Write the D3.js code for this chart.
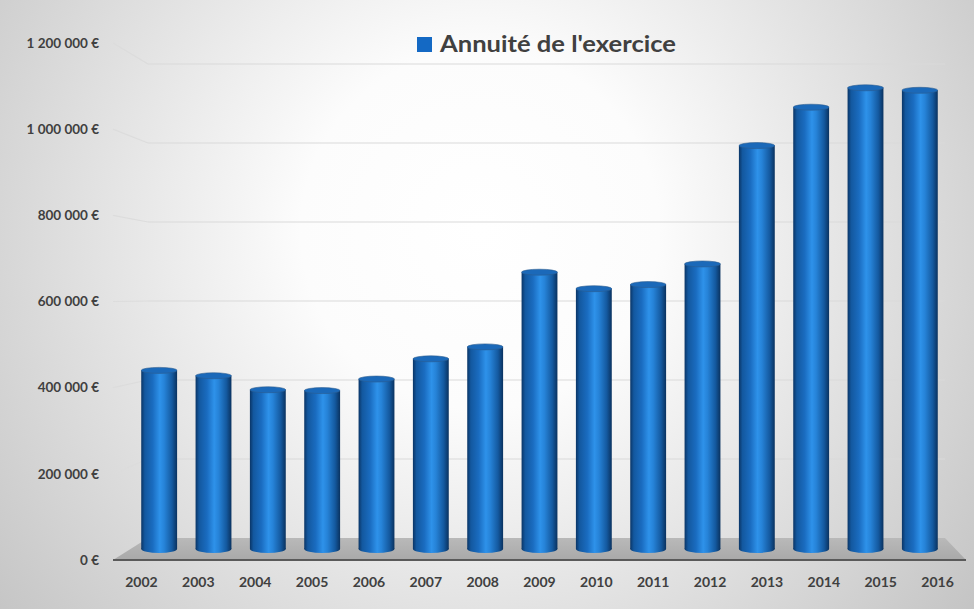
<!DOCTYPE html>
<html>
<head>
<meta charset="utf-8">
<script src="https://cdn.jsdelivr.net/npm/d3@7"></script>
<style>
  html, body { margin: 0; padding: 0; background: #fff; }
  svg { display: block; }
  text { font-family: Lato, "Open Sans", sans-serif; font-weight: bold; fill: #404040; }
</style>
</head>
<body>
<svg id="chart" width="974" height="609"></svg>
<script>
// ---- data ----
const years = ["2002","2003","2004","2005","2006","2007","2008","2009","2010","2011","2012","2013","2014","2015","2016"];
const annuite = [433000, 420000, 386000, 384000, 412000, 461000, 490000, 671000, 631000, 641000, 691000, 978000, 1071000, 1118000, 1112000];
const yTicks = [0, 200000, 400000, 600000, 800000, 1000000, 1200000];
const seriesName = "Annuité de l'exercice";

const W = 974, H = 609;
const svg = d3.select("#chart");
const defs = svg.append("defs");

// background radial gradient
const bg = defs.append("radialGradient").attr("id", "bg")
  .attr("gradientUnits", "userSpaceOnUse")
  .attr("cx", 480).attr("cy", 230).attr("r", 640);
bg.append("stop").attr("offset", "0%").attr("stop-color", "#ffffff");
bg.append("stop").attr("offset", "28%").attr("stop-color", "#fcfcfc");
bg.append("stop").attr("offset", "100%").attr("stop-color", "#c2c2c2");
svg.append("rect").attr("width", W).attr("height", H).attr("fill", "url(#bg)");

// cylinder gradient
const cyl = defs.append("linearGradient").attr("id", "cyl").attr("x1", 0).attr("x2", 1).attr("y1", 0).attr("y2", 0);
[["0%", "#0a3566"], ["10%", "#13589f"], ["32%", "#1a6cc0"], ["52%", "#2e92ea"], ["64%", "#2683d8"], ["86%", "#14599f"], ["100%", "#0a325f"]]
  .forEach(([o, c]) => cyl.append("stop").attr("offset", o).attr("stop-color", c));

// floor gradient
const fl = defs.append("linearGradient").attr("id", "floor").attr("x1", 0).attr("x2", 0).attr("y1", 0).attr("y2", 1);
fl.append("stop").attr("offset", "0%").attr("stop-color", "#b9b9b9");
fl.append("stop").attr("offset", "100%").attr("stop-color", "#a9a9a9");

// ---- scales ----
const yMax = 1200000;
const yFront = d3.scaleLinear().domain([0, yMax]).range([560, 43]);
const yBack = d3.scaleLinear().domain([0, yMax]).range([538, 64]);
const yBar = d3.scaleLinear().domain([0, yMax]).range([549, 54]);
const xFront = d3.scaleBand().domain(years).range([113, 966]);
const xBack = d3.scaleBand().domain(years).range([148, 945]);
const xBar = d3.scaleBand().domain(years).range([132, 947]).paddingInner(0.34).paddingOuter(0.17);

const fmt = v => d3.format(",")(v).replace(/,/g, " ") + " €";

// ---- walls gridlines ----
const backL = xBack.range()[0], backR = xBack.range()[1];
const frontL = xFront.range()[0], frontR = xFront.range()[1];
const grid = svg.append("g");
grid.selectAll("line.back").data(yTicks.filter(t => t > 0)).join("line")
  .attr("x1", backL).attr("x2", backR)
  .attr("y1", d => yBack(d)).attr("y2", d => yBack(d))
  .attr("stroke", "#d9d9d9").attr("stroke-width", 1.2);
grid.selectAll("line.side").data(yTicks.filter(t => t > 0)).join("line")
  .attr("x1", frontL).attr("x2", backL)
  .attr("y1", d => yFront(d)).attr("y2", d => yBack(d))
  .attr("stroke", "#dcdcdc").attr("stroke-width", 1.2);

// ---- floor ----
svg.append("path")
  .attr("d", `M${frontL},${yFront(0)} L${backL},${yBack(0)} L${backR},${yBack(0)} L${frontR},${yFront(0)} Z`)
  .attr("fill", "url(#floor)");
svg.append("line")
  .attr("x1", frontL).attr("x2", frontR).attr("y1", yFront(0)).attr("y2", yFront(0))
  .attr("stroke", "#5a5a5a").attr("stroke-width", 1.8);

// ---- cylinders ----
const ryTop = 3, ryBot = 4;
const bars = svg.append("g").selectAll("g").data(years.map((y, i) => ({ year: y, value: annuite[i] }))).join("g");
bars.append("ellipse")
  .attr("cx", d => xBar(d.year) + xBar.bandwidth() / 2)
  .attr("cy", yBar(0))
  .attr("rx", xBar.bandwidth() / 2).attr("ry", ryBot)
  .attr("fill", "url(#cyl)");
bars.append("rect")
  .attr("x", d => xBar(d.year))
  .attr("y", d => yBar(d.value))
  .attr("width", xBar.bandwidth())
  .attr("height", d => yBar(0) - yBar(d.value))
  .attr("fill", "url(#cyl)");
bars.append("ellipse")
  .attr("cx", d => xBar(d.year) + xBar.bandwidth() / 2)
  .attr("cy", d => yBar(d.value))
  .attr("rx", xBar.bandwidth() / 2).attr("ry", ryTop)
  .attr("fill", "#1b69b9").attr("stroke", "#2c5c8f").attr("stroke-width", 0.6);

// ---- axis labels ----
svg.append("g").selectAll("text").data(yTicks).join("text")
  .attr("x", 99).attr("y", d => yFront(d)).attr("dy", "0.35em")
  .attr("text-anchor", "end").attr("font-size", 13.5)
  .text(d => fmt(d));

svg.append("g").selectAll("text").data(years).join("text")
  .attr("x", d => xFront(d) + xFront.bandwidth() / 2).attr("y", 582).attr("dy", "0.35em")
  .attr("text-anchor", "middle").attr("font-size", 14)
  .text(d => d);

// ---- legend ----
const lg = svg.append("g");
lg.append("rect").attr("x", 417).attr("y", 37).attr("width", 15).attr("height", 15).attr("fill", "#1469c4");
lg.append("text").attr("x", 440).attr("y", 52).attr("font-size", 22)
  .attr("textLength", 236).attr("lengthAdjust", "spacingAndGlyphs")
  .text(seriesName);
</script>
</body>
</html>
